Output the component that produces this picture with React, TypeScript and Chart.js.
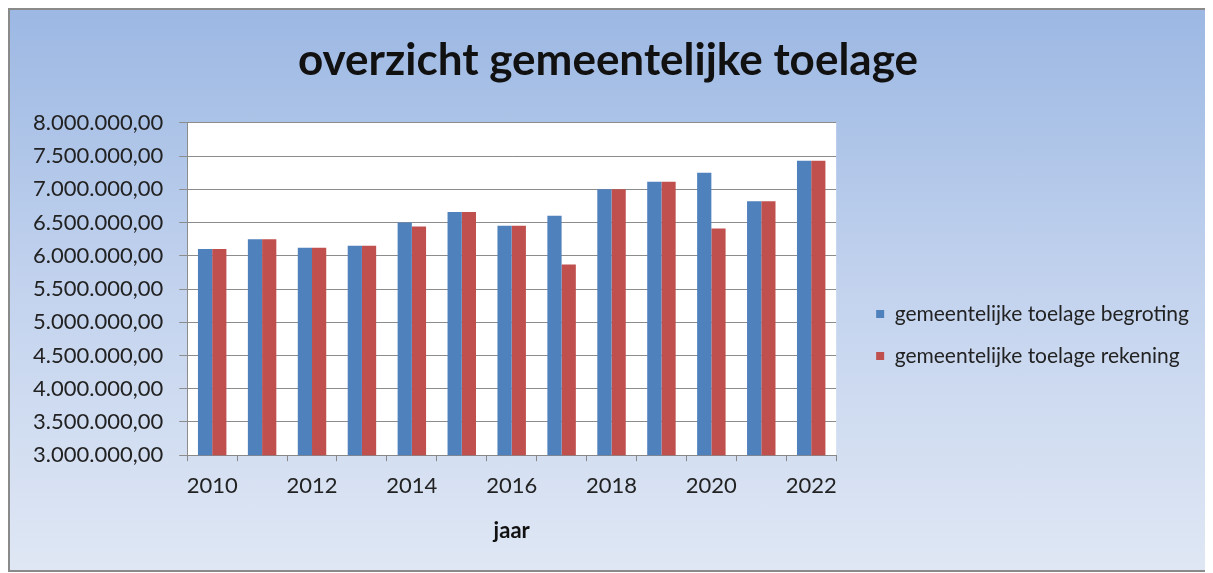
import React, { useEffect, useRef } from "react";
import { Chart, registerables } from "chart.js";

Chart.register(...registerables);

const years = ["2010", "2011", "2012", "2013", "2014", "2015", "2016", "2017", "2018", "2019", "2020", "2021", "2022"];
const begroting = [6100000, 6250000, 6120000, 6150000, 6500000, 6660000, 6450000, 6600000, 7000000, 7115000, 7250000, 6820000, 7430000];
const rekening = [6100000, 6250000, 6120000, 6150000, 6440000, 6660000, 6450000, 5870000, 7000000, 7115000, 6410000, 6820000, 7430000];
const seriesNames = ["gemeentelijke toelage begroting", "gemeentelijke toelage rekening"];
const titleText = "overzicht gemeentelijke toelage";
const xTitle = "jaar";

const FONT = "Lato, 'Open Sans', sans-serif";

function formatNL(v: number): string {
  const int = Math.round(v).toString().replace(/\B(?=(\d{3})+(?!\d))/g, ".");
  return int + ",00";
}

const whiteArea = {
  id: "whiteArea",
  beforeDraw(chart: any) {
    const { ctx, chartArea } = chart;
    ctx.save();
    ctx.fillStyle = "#ffffff";
    ctx.fillRect(chartArea.left, chartArea.top, chartArea.right - chartArea.left, chartArea.bottom - chartArea.top);
    ctx.restore();
  },
};

export default function App() {
  const ref = useRef<HTMLCanvasElement | null>(null);
  useEffect(() => {
    if (!ref.current) return;
    const chart = new Chart(ref.current, {
      type: "bar",
      data: {
        labels: years,
        datasets: [
          { label: seriesNames[0], data: begroting, backgroundColor: "#4F81BD", borderWidth: 0 },
          { label: seriesNames[1], data: rekening, backgroundColor: "#C0504D", borderWidth: 0 },
        ],
      },
      plugins: [whiteArea],
      options: {
        responsive: false,
        animation: false,
        layout: { padding: { left: 7, right: 10, top: 0, bottom: 26 } },
        datasets: { bar: { categoryPercentage: 0.57, barPercentage: 1 } },
        plugins: {
          tooltip: { enabled: false },
          title: {
            display: true,
            text: titleText,
            color: "#111111",
            font: { family: FONT, size: 44, weight: "bold" },
            padding: { top: 24, bottom: 36 },
          },
          legend: {
            position: "right",
            align: "center",
            maxWidth: 420,
            title: {
              display: true,
              text: " ",
              font: { family: FONT, size: 10 },
              padding: { top: 104, bottom: 0 },
            },
            labels: {
              color: "#222222",
              font: { family: FONT, size: 21 },
              boxWidth: 8,
              boxHeight: 8,
              padding: 21,
            },
          },
        },
        scales: {
          x: {
            offset: true,
            grid: { display: true, drawOnChartArea: false, offset: true, color: "#888888", tickLength: 6 },
            border: { display: true, color: "#888888" },
            ticks: {
              autoSkip: false,
              maxRotation: 0,
              color: "#222222",
              font: { family: FONT, size: 22 },
              padding: 12,
              callback: (_v: any, i: number) => (i % 2 === 0 ? years[i] : ""),
            },
            title: {
              display: true,
              text: xTitle,
              color: "#111111",
              font: { family: FONT, size: 22, weight: "bold" },
              padding: { top: 6, bottom: 0 },
            },
          },
          y: {
            min: 3000000,
            max: 8000000,
            grid: { color: "#8c8c8c", lineWidth: 1, tickLength: 8 },
            border: { display: true, color: "#8c8c8c" },
            ticks: {
              stepSize: 500000,
              color: "#222222",
              font: { family: FONT, size: 22 },
              padding: 16,
              callback: (v: any) => formatNL(Number(v)),
            },
          },
          gap: {
            type: "linear",
            position: "right",
            display: true,
            grid: { display: false },
            border: { display: false },
            ticks: { display: false },
            afterFit: (scale: any) => {
              scale.width = 19;
            },
          },
        },
      },
    });
    return () => chart.destroy();
  }, []);

  return (
    <div
      style={{
        width: 1203,
        height: 564,
        boxSizing: "border-box",
        border: "2px solid #8a8a8a",
        background: "linear-gradient(to bottom, #9cb8e3 0%, #c3d3ee 50%, #dfe7f4 100%)",
        position: "relative",
      }}
    >
      <canvas ref={ref} width={1199} height={560} style={{ display: "block" }} />
    </div>
  );
}
